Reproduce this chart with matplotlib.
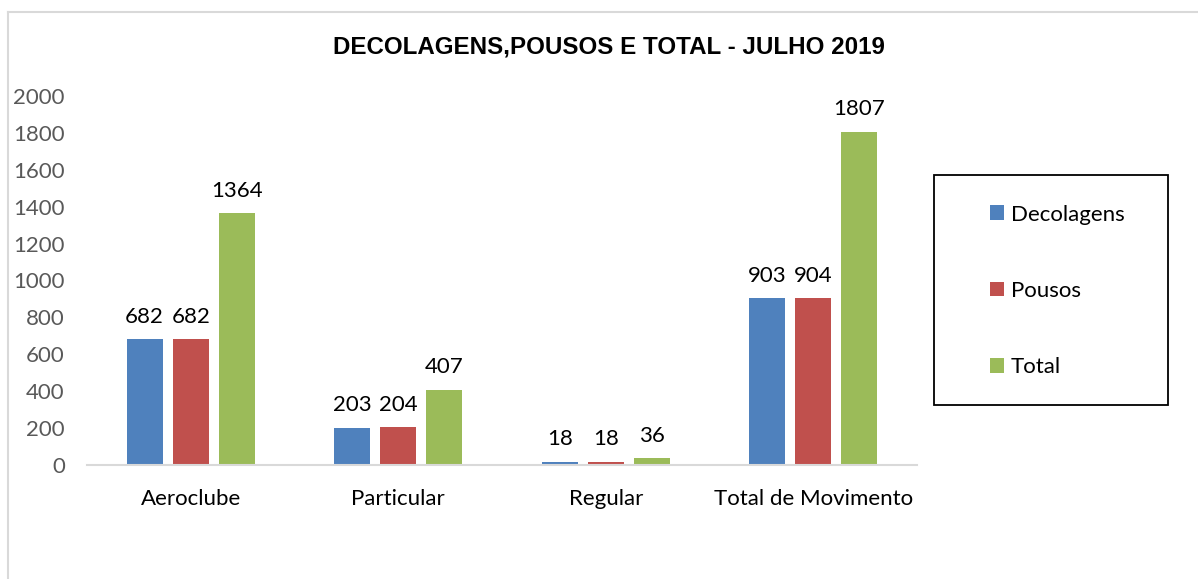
import matplotlib
matplotlib.use("Agg")
import matplotlib.pyplot as plt
import numpy as np
from matplotlib.patches import Patch, Rectangle
from matplotlib.lines import Line2D

categories = ["Aeroclube", "Particular", "Regular", "Total de Movimento"]
series_names = ["Decolagens", "Pousos", "Total"]
decolagens = [682, 203, 18, 903]
pousos = [682, 204, 18, 904]
total = [1364, 407, 36, 1807]
yticks = [0, 200, 400, 600, 800, 1000, 1200, 1400, 1600, 1800, 2000]
title = "DECOLAGENS,POUSOS E TOTAL - JULHO 2019"

colors = ["#4F81BD", "#C0504D", "#9BBB59"]
W, H = 1198, 579
fig = plt.figure(figsize=(W / 100, H / 100), dpi=100)
fig.patch.set_facecolor("white")

font = "Lato"
fs = 16
ax = fig.add_axes([87 / W, 1 - 465 / H, (917 - 87) / W, (465 - 96) / H])

x = np.arange(len(categories))
bw = 0.173
step = 0.222
for i, (vals, name) in enumerate(zip([decolagens, pousos, total], series_names)):
    bars = ax.bar(x + (i - 1) * step, vals, width=bw, color=colors[i], label=name, zorder=2)
    for b, v in zip(bars, vals):
        ax.annotate(str(v), (b.get_x() + b.get_width() / 2, v), xytext=(0, 9),
                    textcoords="offset points", ha="center", va="bottom",
                    fontsize=fs, family=font, color="black")

ax.set_xlim(-0.5, len(categories) - 0.5)
ax.set_ylim(0, 2000)
ax.set_yticks(yticks)
ax.set_yticklabels([str(t) for t in yticks], family=font, fontsize=fs, color="#595959")
ax.set_xticks(x)
ax.set_xticklabels(categories, family=font, fontsize=fs, color="black")
ax.tick_params(axis="y", length=0, pad=16)
ax.tick_params(axis="x", length=0, pad=17)
for s in ["top", "right", "left"]:
    ax.spines[s].set_visible(False)
ax.spines["bottom"].set_color("#d9d9d9")
ax.spines["bottom"].set_linewidth(1.5)

fig.text(608.5 / W, 1 - 47 / H, title, ha="center", va="center",
         fontsize=17.4, fontweight="bold", family="Liberation Sans")

# outer chart border
fig.add_artist(Line2D([8 / W, 8 / W], [-0.1, 1 - 12 / H], color="#d9d9d9", lw=1.5,
                      transform=fig.transFigure))
fig.add_artist(Line2D([8 / W, 1.1], [1 - 12 / H, 1 - 12 / H], color="#d9d9d9", lw=1.5,
                      transform=fig.transFigure))

# legend box
fig.add_artist(Rectangle((934 / W, 1 - 405 / H), (1168 - 934) / W, (405 - 175) / H,
                         transform=fig.transFigure, fill=False, edgecolor="black", lw=1.3))
handles = [Patch(facecolor=c, edgecolor="none") for c in colors]
leg = fig.legend(handles, series_names, loc="center left",
                 bbox_to_anchor=(990 / W, 1 - 291 / H), frameon=False,
                 prop={"family": font, "size": fs}, labelspacing=2.54,
                 handlelength=0.63, handleheight=0.63, handletextpad=0.3,
                 borderpad=0, borderaxespad=0)

fig.savefig("out.png", dpi=100)
